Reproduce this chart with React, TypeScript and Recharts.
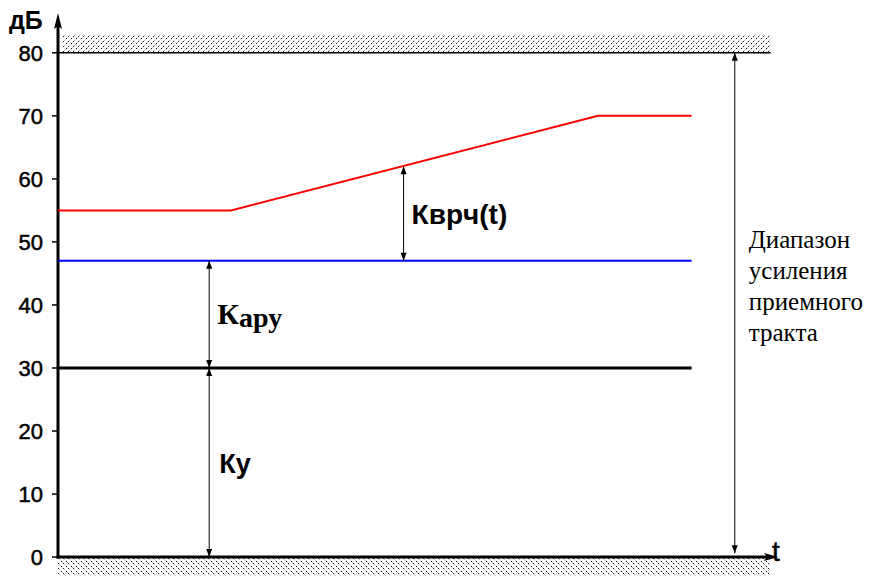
import React from 'react'
import { ComposedChart, Line, XAxis, YAxis, ReferenceLine, ReferenceArea } from 'recharts'

// amplification levels, dB, against time (arbitrary units 0..100)
const Y_TICKS = [0, 10, 20, 30, 40, 50, 60, 70, 80]
const RED = [
  { t: 0, db: 55 },
  { t: 24, db: 55 },
  { t: 75, db: 70 },
  { t: 88, db: 70 },
]
const BLUE = [
  { t: 0, db: 47 },
  { t: 88, db: 47 },
]
const BLACK = [
  { t: 0, db: 30 },
  { t: 88, db: 30 },
]
const LIMIT_TOP = 80
const T_MAX = 100
const DB_MIN = -3
const DB_MAX = 86
const HATCH_END = 99

// dimension arrows
const K_Y = { t: 21, from: 0, to: 30 }
const K_ARU = { t: 21, from: 30, to: 47 }
const K_VRCH = { t: 48, from: 47, to: 62 }
const RANGE = { t: 94, from: 0.6, to: 80 }
const RANGE_LABEL = ['Диапазон', 'усиления', 'приемного', 'тракта']

const SANS = '"Liberation Sans", Arial, sans-serif'
const SERIF = '"Liberation Serif", "Times New Roman", serif'

type LabelFn = (x: number, mid: number) => React.ReactNode

const dimShape = (label?: LabelFn) => (p: any) => {
  const x = p.x1
  const ya = Math.min(p.y1, p.y2)
  const yb = Math.max(p.y1, p.y2)
  return (
    <g>
      <line x1={x} x2={x} y1={ya} y2={yb} stroke="#000" strokeWidth={1} />
      <polygon points={`${x},${ya} ${x - 3},${ya + 8} ${x + 3},${ya + 8}`} fill="#000" />
      <polygon points={`${x},${yb} ${x - 3},${yb - 8} ${x + 3},${yb - 8}`} fill="#000" />
      {label && label(x, (ya + yb) / 2)}
    </g>
  )
}

const yAxisShape = (p: any) => {
  const x = p.x1
  const top = Math.min(p.y1, p.y2)
  const bottom = Math.max(p.y1, p.y2)
  return (
    <g>
      <line x1={x} x2={x} y1={top + 6} y2={bottom + 1.5} stroke="#000" strokeWidth={3} />
      <polygon points={`${x},${top - 2} ${x - 4},${top + 14} ${x},${top + 11} ${x + 4},${top + 14}`} fill="#000" />
      <text x={9} y={top + 14} fontFamily={SANS} fontWeight="bold" fontSize={25} fill="#000">
        дБ
      </text>
    </g>
  )
}

const xAxisShape = (p: any) => {
  const y = p.y1
  const left = Math.min(p.x1, p.x2)
  const right = Math.max(p.x1, p.x2)
  return (
    <g>
      <line x1={left - 1.5} x2={right - 6} y1={y} y2={y} stroke="#000" strokeWidth={3} />
      <polygon points={`${right},${y} ${right - 14},${y - 4} ${right - 11},${y} ${right - 14},${y + 4}`} fill="#000" />
      <text x={right - 6} y={y + 4} fontFamily={SANS} fontSize={28} fill="#000" stroke="#000" strokeWidth={0.4}>
        t
      </text>
    </g>
  )
}

export default function App() {
  return (
    <div style={{ position: 'absolute', left: 0, top: 0, background: '#fff' }}>
      <ComposedChart width={874} height={576} margin={{ top: 15, right: 96, bottom: 0, left: 0 }}>
        <defs>
          <pattern id="hatchTop" width="5" height="5" patternUnits="userSpaceOnUse">
            <path d="M-1,6 L6,-1" stroke="#000" strokeWidth={1} strokeDasharray="1.5 1.2" />
          </pattern>
          <pattern id="hatchBottom" width="5" height="5" patternUnits="userSpaceOnUse">
            <path d="M-1,-1 L6,6" stroke="#000" strokeWidth={1} strokeDasharray="1.5 1.2" />
          </pattern>
        </defs>
        <XAxis dataKey="t" type="number" domain={[0, T_MAX]} allowDataOverflow hide />
        <YAxis
          type="number"
          domain={[DB_MIN, DB_MAX]}
          ticks={Y_TICKS}
          allowDataOverflow
          width={58}
          axisLine={false}
          tickSize={6}
          tickMargin={9}
          tickLine={{ stroke: '#000', strokeWidth: 1.5 }}
          tick={{ fill: '#000', fontSize: 22, fontFamily: SANS, stroke: '#000', strokeWidth: 0.5 }}
        />

        <ReferenceArea x1={0.6} x2={HATCH_END} y1={LIMIT_TOP} y2={DB_MAX - 3.1} fill="url(#hatchTop)" fillOpacity={1} stroke="none" />
        <ReferenceArea x1={0} x2={HATCH_END} y1={DB_MIN} y2={0} fill="url(#hatchBottom)" fillOpacity={1} stroke="none" />
        <ReferenceLine
          segment={[
            { x: 0, y: LIMIT_TOP },
            { x: HATCH_END, y: LIMIT_TOP },
          ]}
          stroke="#000"
          strokeWidth={1.5}
        />

        <ReferenceLine
          segment={[
            { x: 0, y: 0 },
            { x: 0, y: DB_MAX },
          ]}
          shape={yAxisShape}
        />
        <ReferenceLine
          segment={[
            { x: 0, y: 0 },
            { x: T_MAX, y: 0 },
          ]}
          shape={xAxisShape}
        />

        <Line data={BLACK} dataKey="db" stroke="#000" strokeWidth={3} dot={false} isAnimationActive={false} />
        <Line data={BLUE} dataKey="db" stroke="#0000ff" strokeWidth={2} dot={false} isAnimationActive={false} />
        <Line data={RED} dataKey="db" stroke="#ff0000" strokeWidth={2} dot={false} isAnimationActive={false} />

        <ReferenceLine
          segment={[
            { x: K_Y.t, y: K_Y.from },
            { x: K_Y.t, y: K_Y.to },
          ]}
          shape={dimShape((x, mid) => (
            <text x={x + 10} y={mid + 10} fontFamily={SANS} fontWeight="bold" fontSize={27} fill="#000">
              Ку
            </text>
          ))}
        />
        <ReferenceLine
          segment={[
            { x: K_ARU.t, y: K_ARU.from },
            { x: K_ARU.t, y: K_ARU.to },
          ]}
          shape={dimShape((x, mid) => (
            <text x={x + 8} y={mid + 10} fontFamily={SERIF} fontWeight="bold" fontSize={30} fill="#000">
              К<tspan dy={3} fontSize={28}>ару</tspan>
            </text>
          ))}
        />
        <ReferenceLine
          segment={[
            { x: K_VRCH.t, y: K_VRCH.from },
            { x: K_VRCH.t, y: K_VRCH.to },
          ]}
          shape={dimShape((x, mid) => (
            <text x={x + 8} y={mid + 10} fontFamily={SANS} fontWeight="bold" fontSize={28} fill="#000">
              Квpч(t)
            </text>
          ))}
        />
        <ReferenceLine
          segment={[
            { x: RANGE.t, y: RANGE.from },
            { x: RANGE.t, y: RANGE.to },
          ]}
          shape={dimShape((x, mid) => (
            <text x={x + 14} y={mid - 55} fontFamily={SERIF} fontSize={25} fill="#000">
              {RANGE_LABEL.map((s, i) => (
                <tspan key={s} x={x + 14} dy={i === 0 ? 0 : 31}>
                  {s}
                </tspan>
              ))}
            </text>
          ))}
        />
      </ComposedChart>
    </div>
  )
}
